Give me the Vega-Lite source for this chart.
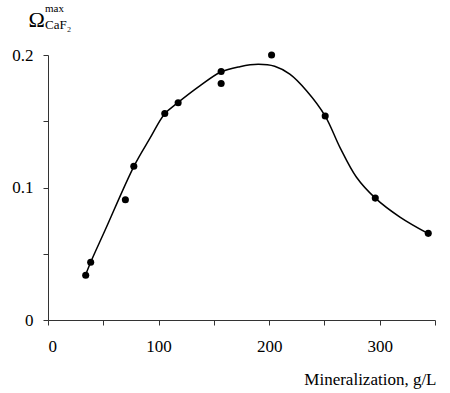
{
  "$schema": "https://vega.github.io/schema/vega-lite/v6.json",
  "width": 387,
  "height": 265,
  "autosize": "none",
  "padding": {"left": 48, "top": 55, "right": 15, "bottom": 73},
  "background": "white",
  "config": {"view": {"stroke": null}, "font": "Liberation Serif"},
  "title": {
    "text": "max",
    "subtitle": "CaF₂",
    "anchor": "start",
    "frame": "group",
    "fontSize": 11,
    "fontWeight": "normal",
    "subtitleFontSize": 13,
    "subtitlePadding": 5,
    "color": "black",
    "subtitleColor": "black",
    "font": "Liberation Serif",
    "subtitleFont": "Liberation Serif",
    "dx": -3,
    "offset": 0,
    "dy": 24
  },
  "datasets": {
    "points": [
      {"x": 34.1, "y": 0.0338},
      {"x": 38.6, "y": 0.0436},
      {"x": 70.0, "y": 0.0908},
      {"x": 77.6, "y": 0.116},
      {"x": 105.6, "y": 0.1558},
      {"x": 117.7, "y": 0.1639},
      {"x": 156.6, "y": 0.1875},
      {"x": 156.6, "y": 0.1785},
      {"x": 202.2, "y": 0.2},
      {"x": 250.7, "y": 0.1539},
      {"x": 296.0, "y": 0.092},
      {"x": 343.9, "y": 0.0654}
    ],
    "curve": [
      {"x": 33.5, "y": 0.033},
      {"x": 38.6, "y": 0.0436},
      {"x": 51.6, "y": 0.0677},
      {"x": 77.6, "y": 0.1158},
      {"x": 92.0, "y": 0.1368},
      {"x": 105.6, "y": 0.1556},
      {"x": 117.4, "y": 0.164},
      {"x": 137.3, "y": 0.1767},
      {"x": 156.3, "y": 0.1872},
      {"x": 173.5, "y": 0.1912},
      {"x": 190.0, "y": 0.193},
      {"x": 205.0, "y": 0.1915},
      {"x": 218.7, "y": 0.1855},
      {"x": 233.8, "y": 0.173},
      {"x": 250.7, "y": 0.1539},
      {"x": 264.0, "y": 0.1303},
      {"x": 279.0, "y": 0.1077},
      {"x": 296.0, "y": 0.092},
      {"x": 318.3, "y": 0.0777},
      {"x": 343.9, "y": 0.0652}
    ]
  },
  "layer": [
    {
      "data": {"name": "curve"},
      "mark": {"type": "line", "interpolate": "catmull-rom", "color": "black", "strokeWidth": 1.5},
      "encoding": {
        "x": {
          "field": "x",
          "type": "quantitative",
          "scale": {"domain": [0, 350], "nice": false},
          "axis": {
            "values": [0, 50, 100, 150, 200, 250, 300, 350],
            "labelExpr": "datum.value % 100 == 0 ? datum.label : ''",
            "format": "d",
            "grid": false,
            "domainColor": "#333",
            "tickColor": "#333",
            "tickSize": 5,
            "labelFontSize": 17,
            "labelColor": "black",
            "labelPadding": 13,
            "labelFont": "Liberation Serif",
            "title": "Mineralization, g/L",
            "titleFont": "Liberation Serif",
            "titleFontSize": 17,
            "titleFontWeight": "normal",
            "titleColor": "black",
            "titleAlign": "right",
            "titleAnchor": null,
            "titleBaseline": "alphabetic",
            "titleX": 388,
            "titleY": 64
          }
        },
        "y": {
          "field": "y",
          "type": "quantitative",
          "scale": {"domain": [0, 0.2], "nice": false},
          "axis": {
            "values": [0, 0.05, 0.1, 0.15, 0.2],
            "labelExpr": "round(datum.value * 100) % 10 == 0 ? datum.label : ''",
            "format": "~g",
            "grid": false,
            "domainColor": "#333",
            "tickColor": "#333",
            "tickSize": 5,
            "labelFontSize": 17,
            "labelColor": "black",
            "labelPadding": 10,
            "labelFont": "Liberation Serif",
            "title": "Ω",
            "titleFont": "Liberation Serif",
            "titleFontSize": 22,
            "titleFontWeight": "normal",
            "titleColor": "black",
            "titleAngle": 0,
            "titleAlign": "left",
            "titleBaseline": "alphabetic",
            "titleX": -20,
            "titleY": -29
          }
        }
      }
    },
    {
      "data": {"name": "points"},
      "mark": {"type": "circle", "size": 50, "color": "black", "opacity": 1},
      "encoding": {
        "x": {"field": "x", "type": "quantitative"},
        "y": {"field": "y", "type": "quantitative"}
      }
    }
  ]
}
